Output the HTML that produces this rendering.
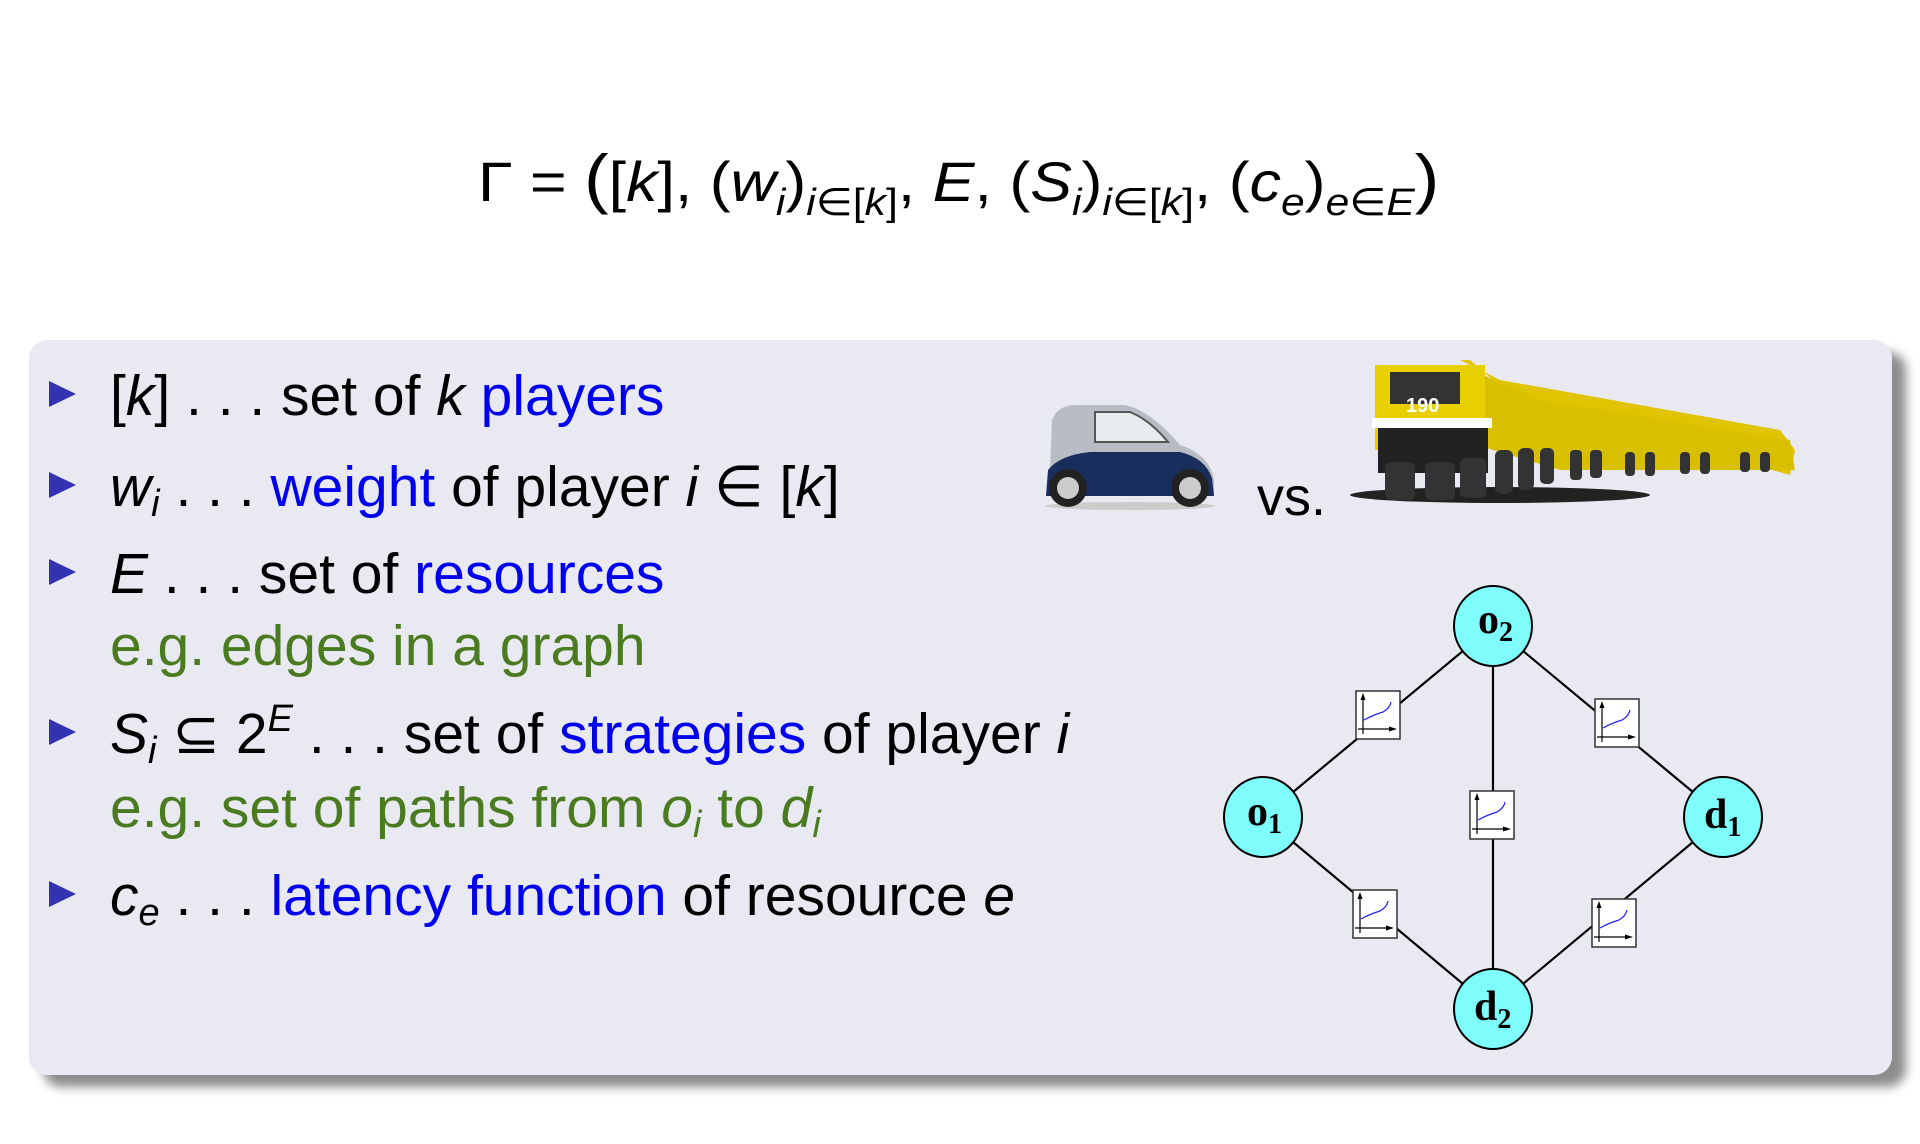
<!DOCTYPE html>
<html><head><meta charset="utf-8"><style>
body{margin:0;width:1920px;height:1144px;background:#fff;position:relative;overflow:hidden;font-family:"Liberation Sans",sans-serif;}
.box{position:absolute;left:29px;top:340px;width:1863px;height:735px;background:#e9e9f1;border-radius:18px;box-shadow:14px 12px 10px rgba(0,0,0,0.45);}
.t{position:absolute;font-size:57px;white-space:nowrap;color:#000;line-height:1;}
.b{color:#0000ee}.g{color:#4b7b20}
.tri{position:absolute;left:49px;width:0;height:0;border-top:13px solid transparent;border-bottom:13px solid transparent;border-left:27px solid #3333b2;}
i{font-style:italic}
sub{font-size:38px;vertical-align:-10px;line-height:0}
sup{font-size:38px;vertical-align:22px;line-height:0}
.f{position:absolute;left:478px;top:140px;font-size:56px;white-space:nowrap;transform:scaleX(1.12);transform-origin:0 0;}
.f sub{font-size:38px;vertical-align:-14px}
</style></head><body>
<div class="f">Γ = <span style="font-size:66px">(</span>[<i>k</i>], (<i>w<sub>i</sub></i>)<sub><i>i</i>∈[<i>k</i>]</sub>, <i>E</i>, (<i>S<sub>i</sub></i>)<sub><i>i</i>∈[<i>k</i>]</sub>, (<i>c<sub>e</sub></i>)<sub><i>e</i>∈<i>E</i></sub><span style="font-size:66px">)</span></div>
<div class="box"></div>
<div class="tri" style="top:381px"></div>
<div class="tri" style="top:472px"></div>
<div class="tri" style="top:559px"></div>
<div class="tri" style="top:719px"></div>
<div class="tri" style="top:881px"></div>
<div class="t" style="left:110px;top:368px">[<i>k</i>] . . . set of <i>k</i> <span class="b">players</span></div>
<div class="t" style="left:110px;top:459px"><i>w<sub>i</sub></i> . . . <span class="b">weight</span> of player <i>i</i> ∈ [<i>k</i>]</div>
<div class="t" style="left:110px;top:546px"><i>E</i> . . . set of <span class="b">resources</span></div>
<div class="t g" style="left:110px;top:618px">e.g. edges in a graph</div>
<div class="t" style="left:110px;top:706px"><i>S<sub>i</sub></i> ⊆ 2<sup><i>E</i></sup> . . . set of <span class="b">strategies</span> of player <i>i</i></div>
<div class="t g" style="left:110px;top:780px">e.g. set of paths from <i>o<sub>i</sub></i> to <i>d<sub>i</sub></i></div>
<div class="t" style="left:110px;top:868px"><i>c<sub>e</sub></i> . . . <span class="b">latency function</span> of resource <i>e</i></div>
<div class="t" style="left:1257px;top:470px;font-size:54px">vs.</div>
<svg width="1920" height="1144" style="position:absolute;left:0;top:0">
<g>
<ellipse cx="1130" cy="506" rx="85" ry="4" fill="#ccc"/>
<path d="M1050 470 L1052 420 Q1058 405 1075 405 L1125 405 Q1150 410 1180 445 Q1210 455 1214 480 L1214 495 L1046 495 Z" fill="#b8bcc4"/>
<path d="M1048 470 Q1060 455 1090 452 L1180 452 Q1205 458 1212 478 L1214 496 L1046 496 Z" fill="#1a2e5e"/>
<path d="M1095 412 L1130 412 Q1150 420 1168 442 L1095 442 Z" fill="#e7ecef" stroke="#555" stroke-width="2"/>
<circle cx="1068" cy="488" r="19" fill="#222"/><circle cx="1068" cy="488" r="11" fill="#ccc"/>
<circle cx="1190" cy="488" r="19" fill="#222"/><circle cx="1190" cy="488" r="11" fill="#ccc"/>
</g>
<g>
<ellipse cx="1500" cy="495" rx="150" ry="8" fill="#222"/>
<path d="M1360 360 L1470 360 L1510 395 L1790 475 L1795 450 L1780 430 L1500 380 L1460 360 Z" fill="#e0c400"/>
<path d="M1460 365 L1540 400 L1790 440 L1795 470 L1560 470 L1460 440 Z" fill="#d8c000"/>
<rect x="1375" y="365" width="110" height="85" fill="#e8d000"/>
<rect x="1390" y="372" width="70" height="32" fill="#333"/>
<text x="1406" y="412" font-family="Liberation Sans" font-weight="bold" font-size="20" fill="#fff">190</text>
<rect x="1372" y="418" width="120" height="10" fill="#fff"/>
<rect x="1378" y="428" width="110" height="45" fill="#222"/>
<g fill="#333">
<rect x="1385" y="462" width="30" height="38" rx="6"/><rect x="1425" y="462" width="30" height="38" rx="6"/><rect x="1460" y="458" width="26" height="40" rx="6"/>
<rect x="1495" y="450" width="18" height="44" rx="6"/><rect x="1518" y="448" width="16" height="42" rx="6"/><rect x="1540" y="448" width="14" height="36" rx="5"/>
<rect x="1570" y="450" width="12" height="30" rx="4"/><rect x="1590" y="450" width="12" height="28" rx="4"/><rect x="1625" y="452" width="10" height="24" rx="4"/><rect x="1645" y="452" width="10" height="24" rx="4"/>
<rect x="1680" y="452" width="10" height="22" rx="4"/><rect x="1700" y="452" width="10" height="22" rx="4"/><rect x="1740" y="452" width="10" height="20" rx="4"/><rect x="1760" y="452" width="10" height="20" rx="4"/>
</g>
</g>
<g stroke="#000" stroke-width="2.2">
<line x1="1493" y1="626" x2="1263" y2="817"/>
<line x1="1493" y1="626" x2="1723" y2="817"/>
<line x1="1493" y1="626" x2="1493" y2="1009"/>
<line x1="1263" y1="817" x2="1493" y2="1009"/>
<line x1="1723" y1="817" x2="1493" y2="1009"/>
</g>
<defs>
<g id="lat">
<rect x="-22" y="-24" width="44" height="48" fill="#fff" stroke="#333" stroke-width="1.5"/>
<line x1="-15" y1="19" x2="-15" y2="-18" stroke="#000" stroke-width="1.2"/>
<path d="M-15 -22 L-17.5 -15 L-12.5 -15 Z" fill="#000"/>
<line x1="-20" y1="14" x2="14" y2="14" stroke="#000" stroke-width="1.2"/>
<path d="M19 14 L11 11.5 L11 16.5 Z" fill="#000"/>
<path d="M-14 5 Q-5 0 5 -3 Q12 -7 13 -13" fill="none" stroke="#22f" stroke-width="1.2"/>
</g>
</defs>
<use href="#lat" x="1378" y="715"/>
<use href="#lat" x="1617" y="723"/>
<use href="#lat" x="1492" y="815"/>
<use href="#lat" x="1375" y="914"/>
<use href="#lat" x="1614" y="923"/>
<g fill="#7ffcfc" stroke="#000" stroke-width="2">
<ellipse cx="1493" cy="626" rx="39" ry="40"/>
<ellipse cx="1263" cy="817" rx="39" ry="40"/>
<ellipse cx="1723" cy="817" rx="39" ry="40"/>
<ellipse cx="1493" cy="1009" rx="39" ry="40"/>
</g>
<g font-family="Liberation Serif" font-weight="bold" font-size="42" fill="#000">
<text x="1478" y="633">o<tspan font-size="28" dy="8">2</tspan></text>
<text x="1247" y="825">o<tspan font-size="28" dy="8">1</tspan></text>
<text x="1704" y="828">d<tspan font-size="28" dy="8">1</tspan></text>
<text x="1474" y="1020">d<tspan font-size="28" dy="8">2</tspan></text>
</g>
</svg>
</body></html>
